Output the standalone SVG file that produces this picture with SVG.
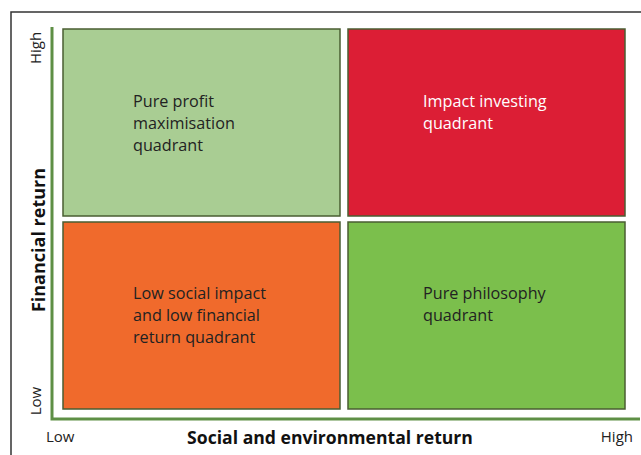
<svg xmlns="http://www.w3.org/2000/svg" width="641" height="455" viewBox="0 0 641 455">
<style>
.q{stroke:#4a5e32;stroke-width:1.5}
.t{font-family:"Open Sans",sans-serif;font-size:16.2px;fill:#222}
.s{font-family:"Open Sans",sans-serif;font-size:15px;fill:#222}
.b{font-family:"Open Sans",sans-serif;font-weight:bold;fill:#111}
.ax{stroke:#5e8f45;stroke-width:3;fill:none}
</style>
<rect width="641" height="455" fill="#fff"/>
<path d="M11 455V12H641" stroke="#333" stroke-width="1.5" fill="none"/>
<g id="axes">
<path class="ax" d="M52 27V419H640"/>
</g>
<g id="q-tl"><rect class="q" x="63" y="29" width="277" height="187" fill="#a9cd93"/>
<text class="t" x="133" y="107">Pure profit</text><text class="t" x="133" y="129">maximisation</text><text class="t" x="133" y="151">quadrant</text></g>
<g id="q-tr"><rect class="q" x="348" y="29" width="277" height="187" fill="#dc1e35"/>
<text class="t" x="423" y="107" style="fill:#fff">Impact investing</text><text class="t" x="423" y="129" style="fill:#fff">quadrant</text></g>
<g id="q-bl"><rect class="q" x="63" y="222" width="277" height="187" fill="#f06a2c"/>
<text class="t" x="133" y="299">Low social impact</text><text class="t" x="133" y="321">and low financial</text><text class="t" x="133" y="343">return quadrant</text></g>
<g id="q-br"><rect class="q" x="348" y="222" width="277" height="187" fill="#7bbf4c"/>
<text class="t" x="423" y="299">Pure philosophy</text><text class="t" x="423" y="321">quadrant</text></g>
<g id="labels">
<text class="s" transform="translate(41,48) rotate(-90)" text-anchor="middle">High</text>
<text class="s" transform="translate(41,401) rotate(-90)" text-anchor="middle">Low</text>
<text class="b" font-size="18" transform="translate(45,240) rotate(-90)" text-anchor="middle">Financial return</text>
<text class="s" x="46" y="442">Low</text>
<text class="s" x="633" y="442" text-anchor="end">High</text>
<text class="b" font-size="17.6" x="330" y="444" text-anchor="middle">Social and environmental return</text>
</g>
</svg>
